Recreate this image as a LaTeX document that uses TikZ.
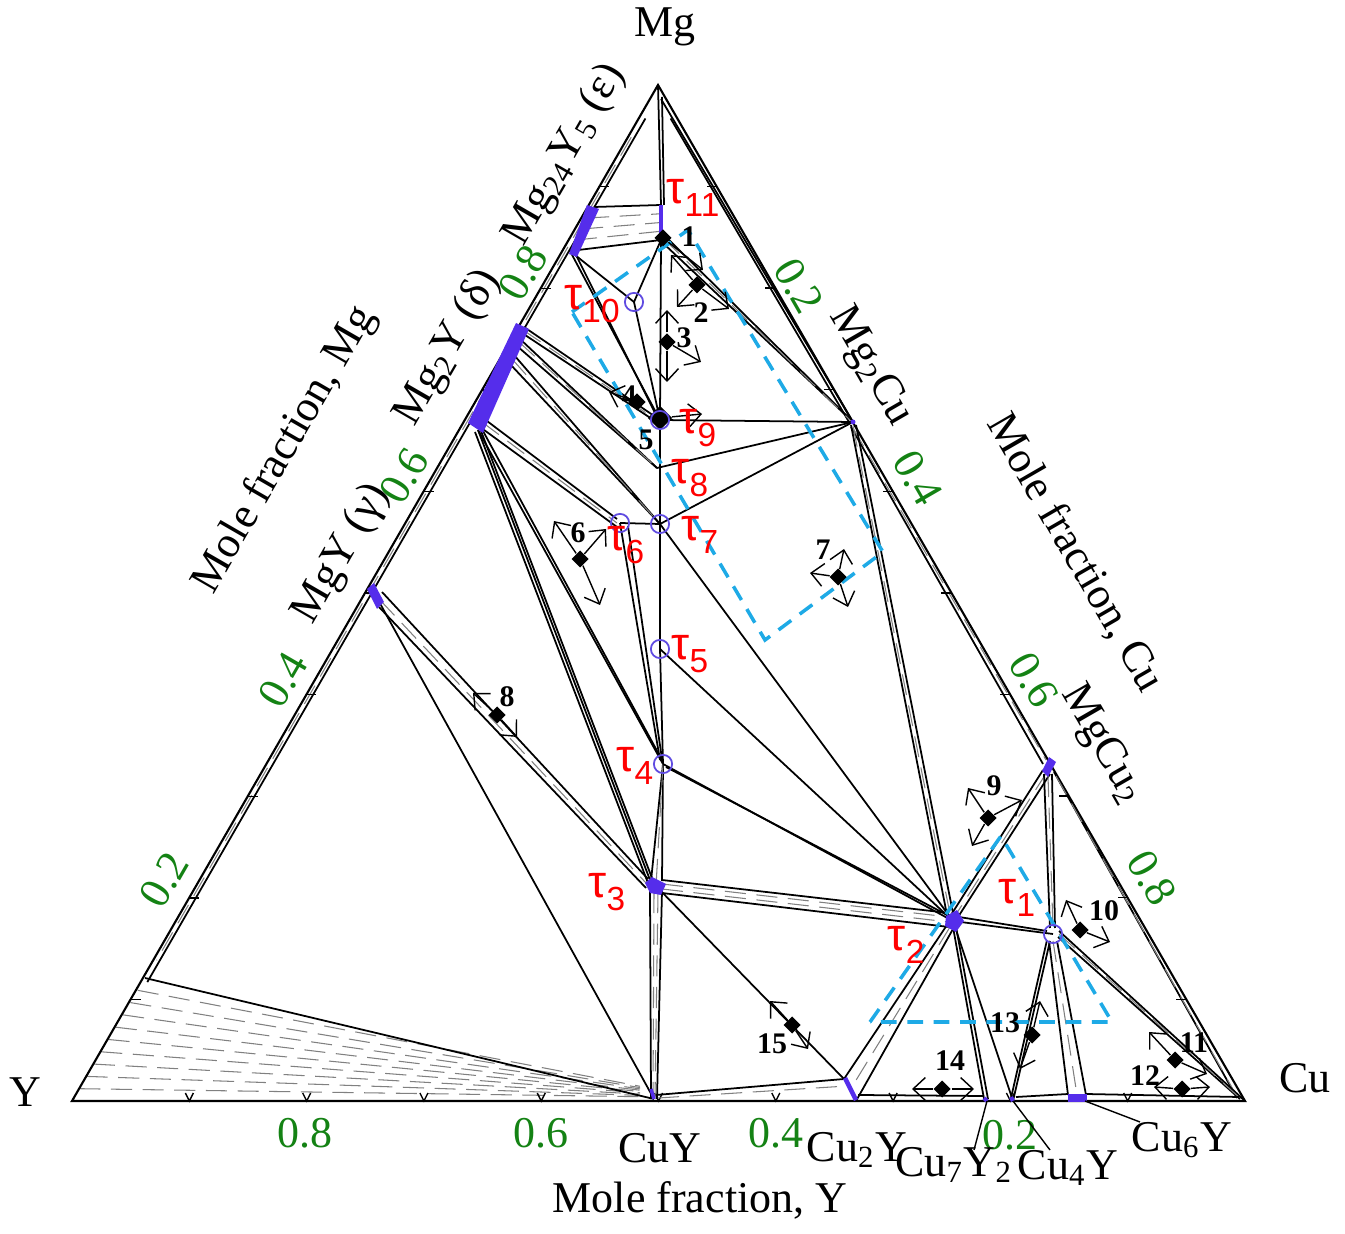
\documentclass[tikz,border=0pt]{standalone}
\usepackage{fontspec}
\setmainfont{Liberation Serif}
\newfontfamily\taufont{Liberation Sans}
\usetikzlibrary{shapes.geometric,calc,arrows.meta}
\definecolor{phaseblue}{RGB}{85,45,235}
\definecolor{ringblue}{RGB}{95,75,225}
\definecolor{tickgreen}{RGB}{20,130,20}
\definecolor{boxcyan}{RGB}{30,170,230}
\tikzset{
  tie/.style={line width=0.5pt},
  hatch/.style={gray, line width=0.3pt, dash pattern=on 6pt off 3pt},
  phase/.style={fill=phaseblue, draw=phaseblue, line width=0.3pt},
  ring/.style={circle, draw=ringblue, line width=0.5pt, minimum size=5.2pt, inner sep=0pt},
  inv/.style={diamond, fill=black, minimum size=5pt, inner sep=0pt},
  invlab/.style={font=\fontsize{8.5}{9}\selectfont\bfseries, inner sep=0pt},
  flow/.style={-{Straight Barb[length=3.5pt,width=6.5pt]}, line width=0.4pt},
  taulab/.style={text=red, font=\taufont\fontsize{13}{14}\selectfont, inner sep=0pt},
  ticklab/.style={text=tickgreen, font=\fontsize{12.5}{14}\selectfont, inner sep=0pt},
  cmpd/.style={font=\fontsize{12.5}{14}\selectfont, inner sep=0pt},
  dashbox/.style={draw=boxcyan, line width=1pt, dash pattern=on 4.5pt off 3pt},
}
\newcommand{\tsub}[1]{τ\raisebox{-0.55ex}{\fontsize{9.5}{10}\selectfont #1}}
\begin{document}
\begin{tikzpicture}[x=0.01cm, y=-0.01cm]
  \useasboundingbox (0,0) rectangle (1345,1234);
  % Corners of the triangle
  \coordinate (Mg) at (658,85);
  \coordinate (Y) at (72,1101);
  \coordinate (Cu) at (1245,1101);
  % Binary phases
  \coordinate (eA) at (594,207);   % Mg24Y5 upper end
  \coordinate (eB) at (570,251);   % Mg24Y5 lower end
  \coordinate (dA) at (524,327);   % Mg2Y upper end
  \coordinate (dB) at (478,430);   % Mg2Y lower end
  \coordinate (gm) at (377,598);   % MgY
  \coordinate (mc) at (853,422);   % Mg2Cu
  \coordinate (mcc) at (1048,766); % MgCu2
  \coordinate (cy) at (654,1099);  % CuY
  \coordinate (c2) at (850,1089);  % Cu2Y
  \coordinate (c7) at (987,1101);  % Cu7Y2
  \coordinate (c4) at (1013,1101); % Cu4Y
  \coordinate (c6) at (1077,1098); % Cu6Y
  \coordinate (yl) at (145,978);   % end of Y + CuY field on the edge
  % Ternary phases
  \coordinate (k11) at (661,205);
  \coordinate (t11) at (661,240);
  \coordinate (t10) at (634,302);
  \coordinate (t9) at (660,420);
  \coordinate (t8) at (657,468);
  \coordinate (t7) at (660,524);
  \coordinate (t6) at (620,523);
  \coordinate (t5) at (660,649);
  \coordinate (t4) at (663,764);
  \coordinate (t3) at (656,886);
  \coordinate (t2) at (953,921);
  \coordinate (t1) at (1053,934);

  % Y + CuY field (drawn first)
  \foreach \k in {1,...,9}
    \draw[hatch] ($(Y)!\k/10!(yl)$) -- ($(cy)+(-14,-1-1.3*\k)$);
  \draw[tie] (yl) -- (cy);

  % Triangle and the strips along its sides
  \draw[line width=0.6pt] (Mg) -- (Y) -- (Cu) -- cycle;
  \draw[tie] ($(Mg)!0.03!(Y)+(5,3)$) -- ($(Mg)!0.88!(Y)+(5,3)$);
  \draw[hatch] ($(Mg)!0.05!(Y)+(2.5,1.5)$) -- ($(Mg)!0.86!(Y)+(2.5,1.5)$);
  \draw[tie] ($(Mg)!0.03!(Cu)+(-5,3)$) -- ($(mc)+(-4,0)$);
  \draw[tie] ($(mc)+(-2,5)$) -- ($(mcc)+(-5,-2)$);
  \draw[hatch] ($(mc)+(0,6)$) -- ($(mcc)+(-2,-6)$);
  \draw[tie] ($(mcc)+(6,6)$) -- ($(Cu)+(-8,-3)$);
  \draw[hatch] ($(mcc)+(8,10)$) -- ($(Cu)+(-6,-1)$);

  % Ticks
  \foreach \f in {0.1,0.2,...,0.91} {
    \draw[line width=0.4pt] ($(Y)!\f!(Mg)$) -- ++(10,0);
    \draw[line width=0.4pt] ($(Mg)!\f!(Cu)$) -- ++(-10,0);
    \draw[line width=0.4pt] ($(Cu)!\f!(Y)+(-4,-8)$) -- ($(Cu)!\f!(Y)$) -- ++(4,-8);
  }

  % Tie lines on the Mg side
  \draw[tie] (eA) -- (k11);
  \draw[tie] (eB) -- (t11);
  \foreach \s in {0.25,0.5,0.75}
    \draw[hatch] ($(eA)!\s!(eB)$) -- ($(k11)!\s!(t11)$);
  \draw[tie] (Mg) -- (k11);
  \draw[tie] ($(Mg)+(4,12)$) -- ($(k11)+(3,0)$);
  \draw[tie] ($(t11)+(2,-6)$) -- ($(mc)+(-3,-3)$);
  \draw[tie] ($(t11)+(3,4)$) -- (mc);
  \draw[hatch] ($(t11)+(3,-1)$) -- ($(mc)+(-2,-1)$);
  \draw[tie] ($(Mg)+(3,14)$) -- (mc);
  \draw[tie] (t11) -- (t9) -- (t7) -- (t5) -- (t4);
  \draw[tie] (eB) -- (t10);
  \draw[tie] (t10) -- (t11);
  \draw[tie] (t10) -- (t9);
  \draw[tie] (eB) -- (t9);
  \draw[tie] ($(eB)+(5,2)$) -- ($(t9)+(-3,-3)$);

  % Fan from Mg2Y
  \draw[tie] (dA) -- (t9);
  \draw[tie] ($(dA)+(-2,6)$) -- ($(t9)+(-2,3)$);
  \draw[hatch] ($(dA)+(-1,3)$) -- ($(t9)+(-2,1)$);
  \draw[tie] ($(dA)+(-4,12)$) -- (t8);
  \draw[tie] ($(dA)+(-7,19)$) -- (t8);
  \draw[hatch] ($(dA)+(-5,15)$) -- (t8);
  \draw[tie] ($(dA)+(-10,28)$) -- (t7);
  \draw[tie] ($(dA)+(-14,37)$) -- (t7);
  \draw[hatch] ($(dA)+(-12,32)$) -- (t7);
  \draw[tie] ($(dB)+(5,-12)$) -- ($(t6)+(-3,-4)$);
  \draw[tie] ($(dB)+(2,-3)$) -- ($(t6)+(-3,4)$);
  \draw[hatch] ($(dB)+(4,-8)$) -- ($(t6)+(-3,0)$);
  \draw[tie] (dB) -- (t4);
  \draw[tie] ($(dB)+(5,1)$) -- ($(t4)+(-1,-4)$);
  \draw[tie] ($(dB)+(-3,2)$) -- ($(t3)+(-8,-3)$);
  \draw[tie] (dB) -- ($(t3)+(-6,-6)$);
  \draw[tie] ($(dB)+(3,1)$) -- ($(t3)+(-4,-8)$);
  \draw[tie] (t6) -- (t7);
  \draw[tie] (t6) -- ($(t4)+(-3,-4)$);
  \draw[tie] ($(t6)+(8,3)$) -- ($(t4)+(-1,-5)$);

  % MgY
  \draw[tie] ($(gm)+(5,-6)$) -- ($(t3)+(-8,-7)$);
  \draw[tie] ($(gm)+(2,9)$) -- ($(t3)+(-10,2)$);
  \draw[hatch] ($(gm)+(3,2)$) -- ($(t3)+(-9,-2)$);
  \draw[tie] (gm) -- (cy);

  % tau3 and CuY
  \draw[tie] (t4) -- ($(t3)+(-5,-5)$);
  \draw[tie] (t4) -- ($(t3)+(6,-5)$);
  \draw[hatch] (t4) -- (t3);
  \draw[tie] ($(t3)+(-6,5)$) -- ($(cy)+(-3,0)$);
  \draw[tie] ($(t3)+(6,5)$) -- ($(cy)+(3,0)$);
  \draw[hatch] ($(t3)+(-2,6)$) -- ($(cy)+(-1,0)$);
  \draw[hatch] ($(t3)+(2,6)$) -- ($(cy)+(1,0)$);

  % Lines into tau2
  \draw[tie] ($(t3)+(6,-6)$) -- ($(t2)+(-4,-8)$);
  \draw[tie] ($(t3)+(6,7)$) -- ($(t2)+(-4,6)$);
  \draw[hatch] ($(t3)+(6,-2)$) -- ($(t2)+(-4,-4)$);
  \draw[hatch] ($(t3)+(6,3)$) -- ($(t2)+(-4,1)$);
  \draw[tie] (t4) -- (t2);
  \draw[tie] ($(t4)+(3,3)$) -- ($(t2)+(-2,-4)$);
  \draw[tie] (t5) -- (t2);
  \draw[tie] (t7) -- (t2);
  \draw[tie] (mc) -- (t9);
  \draw[tie] (mc) -- (t8);
  \draw[tie] (mc) -- (t7);
  \draw[tie] ($(mc)+(-2,3)$) -- ($(t2)+(-6,-6)$);
  \draw[tie] ($(mc)+(3,3)$) -- ($(t2)+(0,-8)$);
  \draw[hatch] ($(mc)+(0,4)$) -- ($(t2)+(-3,-7)$);
  \draw[tie] ($(mcc)+(-5,4)$) -- ($(t2)+(-2,-6)$);
  \draw[tie] ($(mcc)+(2,8)$) -- ($(t2)+(5,-4)$);
  \draw[hatch] ($(mcc)+(-1,6)$) -- ($(t2)+(2,-5)$);

  % Cu corner
  \draw[tie] ($(mcc)+(-4,8)$) -- ($(t1)+(-3,-6)$);
  \draw[tie] ($(mcc)+(4,8)$) -- ($(t1)+(2,-6)$);
  \draw[hatch] ($(mcc)+(0,10)$) -- ($(t1)+(0,-6)$);
  \draw[tie] (t2) -- (t1);
  \draw[tie] ($(t2)+(6,-4)$) -- ($(t1)+(-6,-3)$);
  \draw[tie] ($(t1)+(5,3)$) -- ($(Cu)+(-5,-2)$);
  \draw[tie] ($(t1)+(6,-3)$) -- (Cu);
  \draw[hatch] ($(t1)+(6,0)$) -- ($(Cu)+(-3,-1)$);
  \draw[tie] ($(t1)+(-4,7)$) -- ($(c6)+(-9,-3)$);
  \draw[tie] ($(t1)+(4,7)$) -- ($(c6)+(9,-3)$);
  \draw[hatch] ($(t1)+(0,7)$) -- ($(c6)+(0,-3)$);
  \draw[tie] ($(t1)+(-3,7)$) -- (c4);
  \draw[tie] ($(t1)+(-6,6)$) -- ($(c4)+(-2,-3)$);
  \draw[tie] (t2) -- (c4);
  \draw[tie] ($(t2)+(0,6)$) -- ($(c7)+(-3,-2)$);
  \draw[tie] ($(t2)+(3,6)$) -- ($(c7)+(1,-2)$);
  \draw[tie] ($(t2)+(-6,4)$) -- ($(c2)+(-6,-10)$);
  \draw[tie] ($(t2)+(0,8)$) -- ($(c2)+(6,12)$);
  \draw[hatch] ($(t2)+(-3,6)$) -- ($(c2)+(0,1)$);
  \draw[tie] (t3) -- ($(c2)+(-6,-10)$);

  % Strip along the Cu-Y side
  \draw[tie] ($(cy)+(2,-4)$) -- ($(c2)+(-6,-10)$);
  \draw[hatch] ($(cy)+(4,-1)$) -- ($(c2)+(-3,-3)$);
  \draw[tie] ($(c2)+(8,6)$) -- ($(c7)+(-3,-5)$);
  \draw[tie] ($(c4)+(3,-4)$) -- ($(c6)+(-9,-4)$);
  \draw[tie] ($(c6)+(9,-4)$) -- ($(Cu)+(-6,-4)$);

  % Single-phase regions
  \fill[phaseblue] (569,254) -- (587,205) -- (599,209) -- (577,257) -- cycle;
  \fill[phaseblue] (468,423) -- (516,323) -- (529,329) -- (483,433) -- cycle;
  \fill[phaseblue] (367,589) -- (374,583) -- (384,602) -- (377,609) -- cycle;
  \draw[phaseblue, line width=1.4pt] (k11) -- (t11);
  \fill[phaseblue] (1042,771) -- (1049,757) -- (1056,762) -- (1048,777) -- cycle;
  \fill[phaseblue] (645,883) -- (652,877) -- (666,884) -- (661,895) -- (650,893) -- cycle;
  \fill[phaseblue] (946,916) -- (957,910) -- (964,921) -- (956,932) -- (945,926) -- cycle;
  \fill[phaseblue] (mc) circle (2.5);
  \draw[phaseblue, line width=1pt] (651,1089) -- (cy);
  \draw[phaseblue, line width=1.3pt] (845,1078) -- (856,1100);
  \draw[phaseblue, line width=1.2pt] (984,1098) -- (c7);
  \draw[phaseblue, line width=1.2pt] (1011,1097) -- (c4);
  \fill[phaseblue] (1068,1094) rectangle (1087,1102);

  % Dashed frames
  \draw[dashbox] (572,312) -- (688,230) -- (883,552) -- (765,640) -- cycle;
  \draw[dashbox] (870,1022) -- (1001,836) -- (1112,1022) -- cycle;

  % Invariant points and their arrows
  \node[inv] (p1) at (663,238) {};
  \draw[flow] (p1) -- ++(40,32);
  \node[inv] (p2) at (697,285) {};
  \draw[flow] (p2) -- ++(-20,22);
  \draw[flow] (p2) -- ++(32,24);
  \draw[flow] (p2) -- ++(-26,-30);
  \node[inv] (p3) at (667,342) {};
  \draw[flow] (p3) -- ++(0,-32);
  \draw[flow] (p3) -- ++(34,20);
  \draw[flow] (p3) -- ++(0,40);
  \node[inv] (p4) at (637,402) {};
  \draw[flow] (p4) -- ++(-28,-10);
  \node[inv, minimum size=7pt] (p5) at (660,418) {};
  \draw[flow] (p5) -- ++(42,-4);
  \node[inv] (p6) at (580,559) {};
  \draw[flow] (p6) -- ++(-26,-38);
  \draw[flow] (p6) -- ++(26,-30);
  \draw[flow] (p6) -- ++(20,46);
  \node[inv] (p7) at (838,577) {};
  \draw[flow] (p7) -- ++(-28,-4);
  \draw[flow] (p7) -- ++(6,-28);
  \draw[flow] (p7) -- ++(10,30);
  \node[inv] (p8) at (497,715) {};
  \draw[flow] (p8) -- ++(-24,-22);
  \draw[flow] (p8) -- ++(20,22);
  \node[inv] (p9) at (988,818) {};
  \draw[flow] (p9) -- ++(-20,-30);
  \draw[flow] (p9) -- ++(34,-18);
  \draw[flow] (p9) -- ++(-16,28);
  \node[inv] (p10) at (1080,930) {};
  \draw[flow] (p10) -- ++(-14,-30);
  \draw[flow] (p10) -- ++(30,12);
  \node[inv] (p11) at (1175,1060) {};
  \draw[flow] (p11) -- ++(-26,-28);
  \draw[flow] (p11) -- ++(32,14);
  \node[inv] (p12) at (1182,1089) {};
  \draw[flow] (p12) -- ++(-28,-2);
  \draw[flow] (p12) -- ++(28,-2);
  \node[inv] (p13) at (1032,1035) {};
  \draw[flow] (p13) -- ++(8,-34);
  \draw[flow] (p13) -- ++(-12,34);
  \node[inv] (p14) at (942,1089) {};
  \draw[flow] (p14) -- ++(-30,0);
  \draw[flow] (p14) -- ++(32,0);
  \node[inv] (p15) at (792,1025) {};
  \draw[flow] (p15) -- ++(-22,-24);
  \draw[flow] (p15) -- ++(16,24);
  \node[invlab] at (689,237) {1};
  \node[invlab] at (701,313) {2};
  \node[invlab] at (684,338) {3};
  \node[invlab] at (629,396) {4};
  \node[invlab] at (646,440) {5};
  \node[invlab] at (578,533) {6};
  \node[invlab] at (823,550) {7};
  \node[invlab] at (507,697) {8};
  \node[invlab] at (994,786) {9};
  \node[invlab] at (1104,911) {10};
  \node[invlab] at (1194,1043) {11};
  \node[invlab] at (1145,1076) {12};
  \node[invlab] at (1005,1023) {13};
  \node[invlab] at (950,1061) {14};
  \node[invlab] at (772,1044) {15};

  % Rings on ternary phases
  \foreach \p in {t10,t9,t7,t6,t5,t4,t1}
    \node[ring] at (\p) {};

  % Names of the ternary phases
  \node[taulab] at (693,198) {\tsub{11}};
  \node[taulab] at (592,304) {\tsub{10}};
  \node[taulab] at (698,428) {\tsub{9}};
  \node[taulab] at (690,478) {\tsub{8}};
  \node[taulab] at (700,535) {\tsub{7}};
  \node[taulab] at (626,545) {\tsub{6}};
  \node[taulab] at (690,654) {\tsub{5}};
  \node[taulab] at (635,766) {\tsub{4}};
  \node[taulab] at (607,892) {\tsub{3}};
  \node[taulab] at (906,945) {\tsub{2}};
  \node[taulab] at (1017,898) {\tsub{1}};

  % Tick labels
  \node[ticklab] at (305,1133) {0.8};
  \node[ticklab] at (541,1133) {0.6};
  \node[ticklab] at (776,1133) {0.4};
  \node[ticklab] at (1010,1135) {0.2};
  \node[ticklab, rotate=60] at (164,880) {0.2};
  \node[ticklab, rotate=60] at (283,680) {0.4};
  \node[ticklab, rotate=60] at (404,476) {0.6};
  \node[ticklab, rotate=60] at (523,273) {0.8};
  \node[ticklab, rotate=-60] at (799,286) {0.2};
  \node[ticklab, rotate=-60] at (918,478) {0.4};
  \node[ticklab, rotate=-60] at (1034,680) {0.6};
  \node[ticklab, rotate=-60] at (1152,878) {0.8};

  % Compounds and components
  \node[cmpd] (nMg) at (665,27) {Mg};
  \node[cmpd] (nY) at (25,1092) {Y};
  \node[cmpd] (nCu) at (1305,1078) {Cu};
  \node[cmpd, rotate=60] at (565,155) {Mg\textsubscript{24}Y\textsubscript{5} (ε)};
  \node[cmpd, rotate=60] at (448,348) {Mg\textsubscript{2}Y (δ)};
  \node[cmpd, rotate=60] at (342,554) {MgY (γ)};
  \node[cmpd, rotate=-60] at (870,367) {Mg\textsubscript{2}Cu};
  \node[cmpd, rotate=-60] at (1102,745) {MgCu\textsubscript{2}};
  \node[cmpd] (nCuY) at (660,1148) {CuY};
  \node[cmpd] (nCu2Y) at (857,1150) {Cu\textsubscript{2}Y};
  \node[cmpd] (nCu7) at (954,1165) {Cu\textsubscript{7}Y\textsubscript{2}};
  \node[cmpd] (nCu4) at (1068,1168) {Cu\textsubscript{4}Y};
  \node[cmpd] (nCu6) at (1182,1140) {Cu\textsubscript{6}Y};
  \draw[line width=0.4pt] (c7) -- (974,1150);
  \draw[line width=0.4pt] (c4) -- (1050,1150);
  \draw[line width=0.4pt] ($(c6)+(8,3)$) -- (1140,1122);

  % Axis titles
  \node[cmpd] at (700,1200) {Mole fraction, Y};
  \node[cmpd, rotate=60] at (285,450) {Mole fraction, Mg};
  \node[cmpd, rotate=-60] at (1075,553) {Mole fraction, Cu};
\end{tikzpicture}
\end{document}
